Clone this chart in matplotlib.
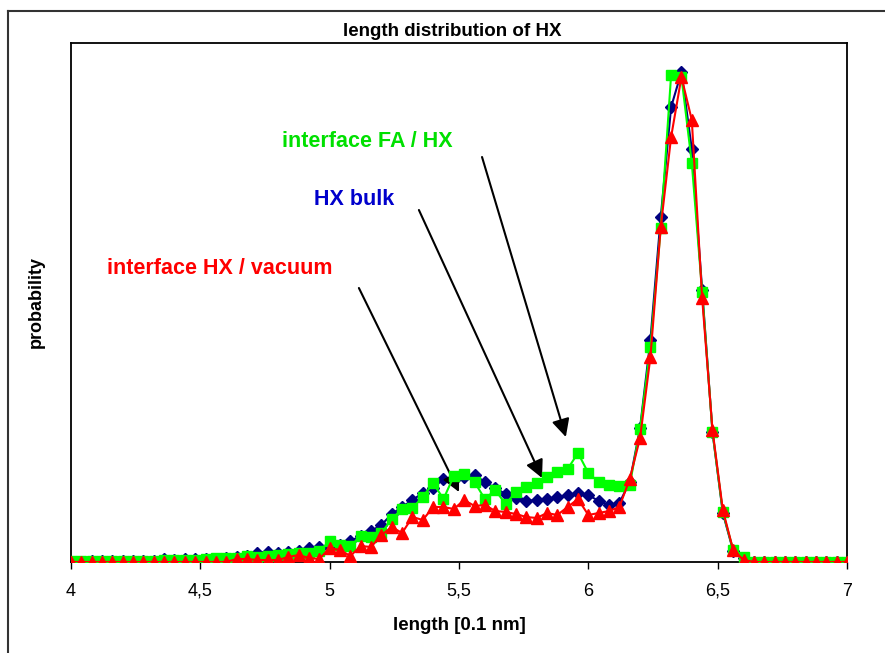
import numpy as np
import matplotlib
matplotlib.use("Agg")
import matplotlib.pyplot as plt
from matplotlib.lines import Line2D

plt.rcParams['font.family'] = ['Liberation Sans', 'DejaVu Sans']

# bin grid: 4.00 ... 7.00 in steps of 0.04 (76 bins)
length = np.round(4 + 0.04 * np.arange(76), 2)

# probabilities (arbitrary units, peak ~49)
hx_bulk = [0.0, 0.0, 0.1, 0.1, 0.1, 0.1, 0.1, 0.1, 0.1,
           0.3, 0.2, 0.3, 0.3, 0.3, 0.3, 0.4, 0.5, 0.6, 0.9, 1.0,
           0.9, 1.0, 1.1, 1.4, 1.5, 1.4, 1.7, 2.1, 2.6, 3.1,
           3.7, 4.8, 5.5, 6.2, 6.9, 7.4, 8.3, 8.2, 8.5, 8.7,
           8.0, 7.4, 6.8, 6.4, 6.1, 6.2, 6.3, 6.5, 6.7, 6.9,
           6.7, 6.1, 5.7, 5.9, 8.0, 13.4, 22.2, 34.5, 45.5, 49.0,
           41.3, 27.2, 13.0, 4.9, 1.1, 0.4,
           0.0, 0.0, 0.0, 0.0, 0.0, 0.0, 0.0, 0.0, 0.0, 0.0]

interface_fa_hx = [0.1, 0.1, 0.1, 0.1, 0.1, 0.1, 0.1, 0.1, 0.1,
                   0.2, 0.2, 0.2, 0.2, 0.3, 0.4, 0.4, 0.4, 0.6, 0.5, 0.6,
                   0.7, 0.8, 0.9, 0.9, 1.1, 2.1, 1.7, 1.6, 2.6, 2.5,
                   2.9, 4.3, 5.3, 5.4, 6.5, 7.9, 6.3, 8.6, 8.8, 8.0,
                   6.3, 7.2, 5.8, 7.0, 7.5, 7.9, 8.5, 9.0, 9.3, 10.9,
                   8.9, 8.0, 7.7, 7.6, 7.7, 13.3, 21.5, 33.4, 48.7, 48.5,
                   39.9, 27.0, 13.0, 5.0, 1.2, 0.5,
                   0.0, 0.0, 0.0, 0.0, 0.0, 0.0, 0.0, 0.0, 0.0, 0.0]

interface_hx_vac = [0.0] * 16 + [
                    0.3, 0.3, 0.2, 0.2,
                    0.2, 0.5, 0.7, 0.4, 0.3, 1.4, 1.2, 0.6, 1.6, 1.5,
                    2.7, 3.5, 2.9, 4.5, 4.2, 5.5, 5.5, 5.3, 6.2, 5.6,
                    5.7, 5.1, 5.0, 4.8, 4.5, 4.4, 4.9, 4.7, 5.5, 6.3,
                    4.7, 4.9, 5.1, 5.5, 8.3, 12.4, 20.5, 33.5, 42.5, 48.5,
                    44.2, 26.4, 13.2, 5.2, 1.2, 0.2,
                    0.0, 0.0, 0.0, 0.0, 0.0, 0.0, 0.0, 0.0, 0.0, 0.0]

xticks = [4, 4.5, 5, 5.5, 6, 6.5, 7]
xtick_labels = ['4', '4,5', '5', '5,5', '6', '6,5', '7']

fig = plt.figure(figsize=(8.85, 6.53), dpi=100)
ax = fig.add_axes([71 / 885, 91 / 653, 776 / 885, 519 / 653])

ax.plot(length, hx_bulk, color='#000080', marker='D', markersize=6, lw=1.5, zorder=3)
ax.plot(length, interface_fa_hx, color='#00ff00', marker='s', markersize=7.2, lw=1.5, zorder=4)
ax.plot(length, interface_hx_vac, color='#ff0000', marker='^', markersize=8, lw=1.5, zorder=5)

ax.set_xlim(4, 7)
ax.set_ylim(0, 51.9)
ax.set_xticks(xticks)
ax.set_xticklabels(xtick_labels, fontsize=13)
ax.set_yticks([])
ax.tick_params(axis='x', direction='out', length=5, width=1, pad=10)
for sp in ax.spines.values():
    sp.set_linewidth(1.3)
    sp.set_color('black')

ax.set_title('length distribution of HX', fontsize=13.5, fontweight='bold', x=0.491, pad=5)
ax.set_xlabel('length [0.1 nm]', fontsize=13.5, fontweight='bold')
ax.xaxis.set_label_coords(0.5, -0.106)
ax.set_ylabel('probability', fontsize=13, fontweight='bold')
ax.yaxis.set_label_coords(-0.034, 0.5)

arrow = dict(arrowstyle='-|>,head_length=0.6,head_width=0.3', mutation_scale=18,
             color='black', lw=1.5, shrinkA=0, shrinkB=0)

ax.text(5.144, 42.0, 'interface FA / HX', color='#00e000', fontsize=15.5,
        fontweight='bold', ha='center', va='center')
ax.annotate('', xy=(5.913, 12.5), xytext=(5.589, 40.5), arrowprops=arrow)

ax.text(5.094, 36.2, 'HX bulk', color='#0000cc', fontsize=15.5,
        fontweight='bold', ha='center', va='center')
ax.annotate('', xy=(5.821, 8.4), xytext=(5.345, 35.2), arrowprops=arrow)

ax.text(4.576, 29.3, 'interface HX / vacuum', color='#ff0000', fontsize=15.5,
        fontweight='bold', ha='center', va='center')
ax.annotate('', xy=(5.500, 7.0), xytext=(5.113, 27.4), arrowprops=arrow)

# outer chart frame (cut off at right and bottom)
x0 = 8 / 885
y0 = 1 - 11 / 653
fig.add_artist(Line2D([x0, x0], [0, y0], transform=fig.transFigure, color='#333333', lw=1.5))
fig.add_artist(Line2D([x0, 1], [y0, y0], transform=fig.transFigure, color='#333333', lw=1.5))

fig.savefig('out.png', dpi=100)
